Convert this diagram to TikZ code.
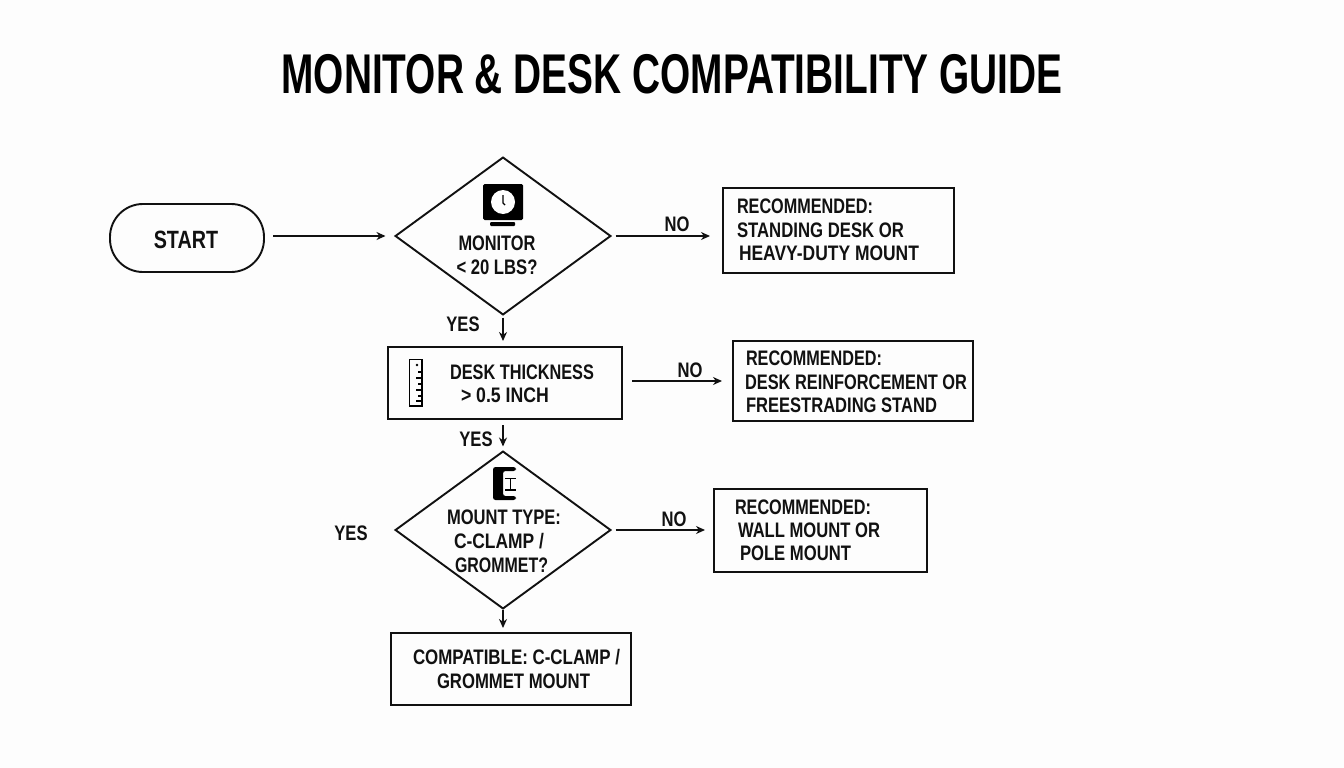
\documentclass[tikz,border=0pt]{standalone}
\usepackage{graphicx}
\usepackage{fontspec}
\setmainfont[FakeStretch=0.79,BoldFont={Liberation Sans Bold}]{Liberation Sans}
\usetikzlibrary{shapes.geometric,arrows.meta}
\definecolor{ink}{HTML}{111111}
\definecolor{paper}{HTML}{FDFDFD}
\newcommand\fitw[2]{\resizebox{#1pt}{\height}{#2}}
\tikzset{
 x=1pt,y=-1pt,
 every node/.style={inner sep=0pt,outer sep=0pt},
 shape line/.style={draw=ink,line width=1.9pt},
 procbox/.style={shape line,rectangle,fill=none},
 decide/.style={shape line,diamond,aspect=1.37,minimum width=215pt,minimum height=157pt},
 term/.style={shape line,rectangle,rounded corners=33pt,minimum width=154pt,minimum height=68pt},
 lbl/.style={font=\fontsize{21}{24}\selectfont\bfseries,text=ink,text height=15pt,text depth=0pt},
 conn/.style={draw=ink,line width=1.5pt,-{Stealth[length=9pt,width=8pt]}},
}
\begin{document}
\begin{tikzpicture}
\fill[paper] (0,0) rectangle (1344,768);
\useasboundingbox (0,0) rectangle (1344,768);
% title
\node[font=\fontsize{56}{60}\selectfont\bfseries,text=black,text height=40pt,text depth=0pt] (title) at (672,73) {\fitw{781}{MONITOR \& DESK COMPATIBILITY GUIDE}};
% shapes
\node[term] (start) at (187,238) {};
\node[lbl,font=\fontsize{25}{28}\selectfont\bfseries,text height=18pt] (starttext) at (186,239) {START};
\node[decide] (d1) at (503,236) {};
\node[procbox,minimum width=234pt,minimum height=72pt] (b2) at (505,383) {};
\node[decide] (d2) at (503,530) {};
\node[procbox,minimum width=240pt,minimum height=72pt] (b3) at (511,669) {};
\node[procbox,minimum width=231pt,minimum height=85pt] (r1) at (838.5,230.5) {};
\node[procbox,minimum width=240pt,minimum height=80pt] (r2) at (853,381) {};
\node[procbox,minimum width=213pt,minimum height=83pt] (r3) at (820.5,530.5) {};
% connectors
\draw[conn,yshift=-1pt,shorten <=9pt,shorten >=10pt] (start.east |- d1.west) -- (d1.west);
\draw[conn,yshift=-1pt,shorten <=5pt,shorten >=13pt] (d1.east) -- (d1.east -| r1.west);
\draw[conn,shorten <=3pt,shorten >=6pt] (d1.south) -- (d1.south |- b2.north);
\draw[conn,shorten <=10pt,shorten >=11pt] (b2.east |- r2.west) -- (r2.west);
\draw[conn,shorten <=6pt,shorten >=5pt] (d1.south |- b2.south) -- (d2.north);
\draw[conn,yshift=-1pt,shorten <=5pt,shorten >=9pt] (d2.east) -- (d2.east -| r3.west);
\draw[conn,shorten <=1pt,shorten >=5pt] (d2.south) -- (d2.south |- b3.north);
% labels on connectors
\node[lbl] (no1) at (677,224) {NO};
\node[lbl] (no2) at (690,370) {NO};
\node[lbl] (no3) at (674,519) {NO};
\node[lbl] (yes1) at (463,324) {YES};
\node[lbl] (yes2) at (476,439) {YES};
\node[lbl] (yes3) at (351,533) {YES};
% text in shapes
\node[lbl] (t1a) at (497,243) {\fitw{77}{MONITOR}};
\node[lbl] (t1b) at (497,267) {\fitw{81}{< 20 LBS?}};
\node[lbl] (t2a) at (522,372) {\fitw{144}{DESK THICKNESS}};
\node[lbl] (t2b) at (505,395) {\fitw{88}{> 0.5 INCH}};
\node[lbl] (t3a) at (504,517) {\fitw{114}{MOUNT TYPE:}};
\node[lbl] (t3b) at (499,541) {\fitw{90}{C-CLAMP /}};
\node[lbl] (t3c) at (501.5,565) {\fitw{93}{GROMMET?}};
\node[lbl] (t4a) at (516.5,657) {\fitw{207}{COMPATIBLE: C-CLAMP /}};
\node[lbl] (t4b) at (513.5,681) {\fitw{153}{GROMMET MOUNT}};
\node[lbl] (r1a) at (805,205.5) {\fitw{136}{RECOMMENDED:}};
\node[lbl] (r1b) at (820.5,229.5) {\fitw{167}{STANDING DESK OR}};
\node[lbl] (r1c) at (829,253) {\fitw{180}{HEAVY-DUTY MOUNT}};
\node[lbl] (r2a) at (814,358) {\fitw{136}{RECOMMENDED:}};
\node[lbl] (r2b) at (856,382) {\fitw{222}{DESK REINFORCEMENT OR}};
\node[lbl] (r2c) at (841.5,405) {\fitw{191}{FREESTRADING STAND}};
\node[lbl] (r3a) at (803,507) {\fitw{136}{RECOMMENDED:}};
\node[lbl] (r3b) at (809,530) {\fitw{142}{WALL MOUNT OR}};
\node[lbl] (r3c) at (795.5,553) {\fitw{111}{POLE MOUNT}};
% monitor icon
\fill[black,rounded corners=1.5pt] (483,184) rectangle (523,220);
\fill[black,rounded corners=1pt] (490,222) rectangle (515,226);
\fill[white] (503,202) circle (12);
\draw[black,line width=1.4pt] (503,195) -- (503,203) -- (505,205);
% ruler icon
\draw[black,line width=1.8pt] (409.5,359.5) rectangle (422,406);
\fill[black] (417,365) circle (1.4);
\foreach \yy/\ll in {372/4,378/6,384/4,390/6,396/4,401/6}
  \draw[black,line width=1.5pt] (422,\yy) -- ++(-\ll,0);
% clamp icon
\fill[black,rounded corners=2.5pt] (516,467) -- (493,467) -- (493,500) -- (516,500) -- (516,496) -- (503,496) -- (503,471) -- (516,471) -- cycle;
\draw[black,line width=1.5pt] (505,478.5) -- (516,478.5) (510.5,478.5) -- (510.5,490) (505,490) -- (516,490);
\end{tikzpicture}
\end{document}
